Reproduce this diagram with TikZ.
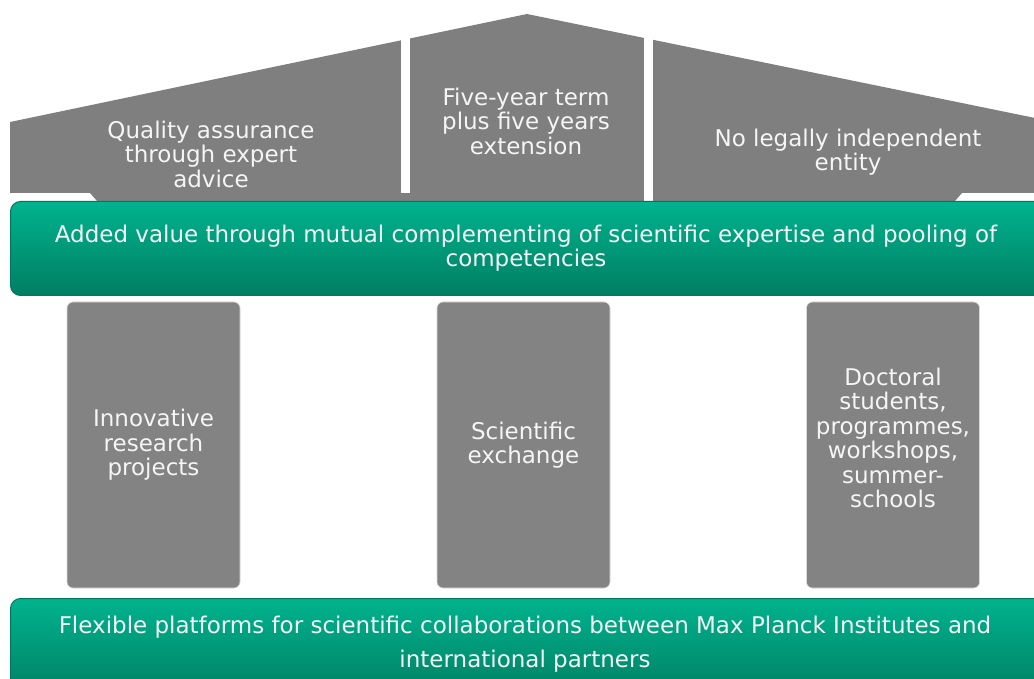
\documentclass[tikz,border=0pt]{standalone}
\usepackage{fontspec}
\setmainfont{DejaVu Sans}
\usetikzlibrary{positioning}
\definecolor{roofgrey}{HTML}{7F7F7F}
\definecolor{pillargrey}{HTML}{838383}
\definecolor{greentop}{HTML}{00B38E}
\definecolor{greenbot}{HTML}{007E62}
\definecolor{greenline}{HTML}{00785C}
\def\pillarw{173}
\def\pillarh{286}

\begin{document}
\begin{tikzpicture}[x=1pt, y=-1pt]
        \tikzstyle{label}=[text=white!96!black, align=center, font=\fontsize{23}{24.5}\selectfont];
        \tikzstyle{pillar}=[rectangle, rounded corners=6pt, fill=pillargrey, draw=black!15, line width=0.6pt, minimum width=\pillarw, minimum height=\pillarh, inner sep=0pt];
        \tikzstyle{band}=[rectangle, rounded corners=10pt, top color=greentop, bottom color=greenbot, draw=greenline, line width=1pt, anchor=north west, inner sep=0pt];
        \useasboundingbox (0,0) rectangle (1034,679);

        % roof
        \fill[roofgrey] (10,122) -- (527,14) -- (1040,119) -- (1040,193) -- (962,193) -- (955,201)
            -- (97,201) -- (90,193) -- (10,193) -- cycle;
        \fill[white] (401,30) rectangle (410,193);
        \fill[white] (644,30) rectangle (653,201);
        \node[label] (R-1) at (211,154) {Quality assurance\\through expert\\advice};
        \node[label] (R-2) at (526,121) {Five-year term\\plus five years\\extension};
        \node[label] (R-3) at (848,152) {No legally independent\\entity};

        % bands
        \node[band, minimum width=1040, minimum height=94] (B-1) at (10,201) {};
        \node[label] (B-1t) at (526,248) {Added value through mutual complementing of scientific expertise and pooling of\\competencies};
        \node[band, minimum width=1040, minimum height=100] (B-2) at (10,598) {};
        \node[label, font=\fontsize{23}{34}\selectfont] (B-2t) at (525,644) {Flexible platforms for scientific collaborations between Max Planck Institutes and\\international partners};

        % pillars
        \foreach \name / \x in {1/153.5, 2/523.5, 3/893}
            \node[pillar] (P-\name) at (\x, 445) {};
        \foreach \name / \y / \txt in {1/445/{Innovative\\research\\projects},
                                       2/445/{Scientific\\exchange},
                                       3/438/{Doctoral\\students,\\programmes,\\workshops,\\summer-\\schools}}
            \node[label] (P-\name t) at (P-\name.center |- 0,\y) {\txt};
    \end{tikzpicture}
\end{document}
